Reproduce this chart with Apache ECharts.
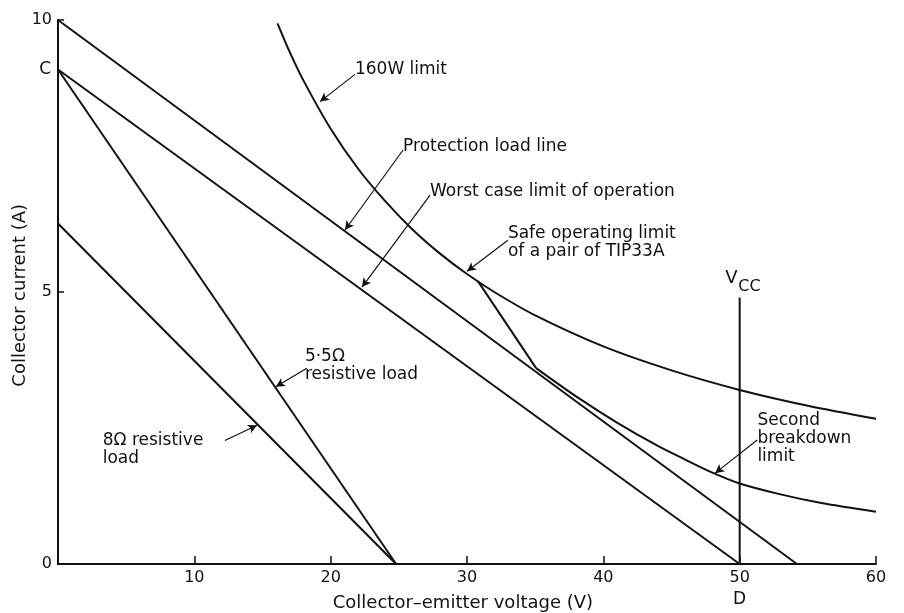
<!DOCTYPE html>
<html><head><meta charset="utf-8">
<script src="https://cdn.jsdelivr.net/npm/echarts@6/dist/echarts.min.js"></script>
<style>html,body{margin:0;padding:0;background:#fff}#c{width:904px;height:613px}</style>
</head><body><div id="c"></div>
<script>
// ---- data ----
const protV = [0, 54.2];           const protI = [10, 0];
const worstV = [0, 50];            const worstI = [9.09, 0];
const load55V = [0, 24.8];         const load55I = [9.09, 0];
const load8V = [0, 24.8];          const load8I = [6.26, 0];
const w160V = [16.1, 17, 18, 20, 22, 24, 26, 28, 30, 32, 35, 40, 45, 50, 55, 60];
const w160I = [9.94, 9.41, 8.89, 8.0, 7.27, 6.67, 6.15, 5.71, 5.33, 5.0, 4.57, 4.0, 3.56, 3.2, 2.91, 2.67];
const safeV = [30.8, 35.07];       const safeI = [5.2, 3.6];
const sbV = [35.07, 38, 41, 44, 46, 48, 50, 53, 56, 60];
const sbI = [3.60, 3.08, 2.6, 2.17, 1.92, 1.68, 1.48, 1.28, 1.12, 0.96];
const vccV = [50, 50];             const vccI = [0, 4.9];
const xTicks = [0, 10, 20, 30, 40, 50, 60];
const yTickLabels = {0: '0', 5: '5', 10: '10'};
const pointC = 9.09;

const arrows = [
  [[21.78, 9.0], [19.22, 8.5]],
  [[25.31, 7.61], [21.05, 6.14]],
  [[27.29, 6.78], [22.30, 5.09]],
  [[33.0, 5.95], [30.0, 5.38]],
  [[18.25, 3.60], [15.98, 3.26]],
  [[12.24, 2.27], [14.6, 2.55]],
  [[51.29, 2.28], [48.2, 1.67]]
];
const notes = [
  {t: '160W limit', at: [21.78, 9.08]},
  {t: 'Protection load line', at: [25.31, 7.68]},
  {t: 'Worst case limit of operation', at: [27.29, 6.84]},
  {t: 'Safe operating limit\nof a pair of TIP33A', at: [33.0, 6.07]},
  {t: '5·5Ω\nresistive load', at: [18.11, 3.82]},
  {t: '8Ω resistive\nload', at: [3.28, 2.26]},
  {t: 'Second\nbreakdown\nlimit', at: [51.3, 2.63]}
];

const zip = (a, b) => a.map((v, i) => [v, b[i]]);
const FONT = 'DejaVu Sans';
const lineS = (data, smooth) => ({
  type: 'line', data, smooth: smooth ? 0.3 : false, symbol: 'none',
  lineStyle: {color: '#111', width: 2}, silent: true, animation: false
});

const chart = echarts.init(document.getElementById('c'), null, {renderer: 'canvas'});
const series = [
  lineS(zip(protV, protI)), lineS(zip(worstV, worstI)),
  lineS(zip(load55V, load55I)), lineS(zip(load8V, load8I)),
  lineS(zip(w160V, w160I), true), lineS(zip(safeV, safeI)),
  lineS(zip(sbV, sbI), true), lineS(zip(vccV, vccI))
];
series.push({
  type: 'line', data: [], silent: true, animation: false,
  markLine: {
    symbol: ['none', 'arrow'], symbolSize: [7, 9], silent: true, animation: false,
    label: {show: false},
    lineStyle: {color: '#111', width: 1.2, type: 'solid'},
    data: arrows.map(a => [{coord: a[0]}, {coord: a[1]}])
  }
});

chart.setOption({
  animation: false,
  grid: {left: 58, right: 28, top: 20, bottom: 49, outerBoundsMode: 'none', containLabel: false},
  xAxis: {
    type: 'value', min: 0, max: 60, interval: 10,
    axisLine: {onZero: false, lineStyle: {color: '#111', width: 2}},
    axisTick: {inside: true, length: 8, lineStyle: {color: '#111', width: 1.5}},
    axisLabel: {color: '#111', fontFamily: FONT, fontSize: 16, margin: 6,
      formatter: v => (v === 0 ? '' : String(v))},
    splitLine: {show: false}
  },
  yAxis: {
    type: 'value', min: 0, max: 10, interval: 5,
    axisLine: {onZero: false, lineStyle: {color: '#111', width: 2}},
    axisTick: {inside: true, length: 6, lineStyle: {color: '#111', width: 1.5}},
    axisLabel: {color: '#111', fontFamily: FONT, fontSize: 16, margin: 6,
      formatter: v => yTickLabels[v] || ''},
    splitLine: {show: false}
  },
  series
});

function px(p) { return chart.convertToPixel({gridIndex: 0}, p); }
const g = [];
notes.forEach(n => {
  const p = px(n.at);
  g.push({type: 'text', x: p[0], y: p[1] - 9, silent: true,
    style: {text: n.t, fill: '#111', font: '17px ' + FONT, lineHeight: 18,
      textAlign: 'left', textVerticalAlign: 'top'}});
});
// Vcc label
const pv = px([48.95, 5.26]);
g.push({type: 'text', x: pv[0], y: pv[1], silent: true,
  style: {text: 'V', fill: '#111', font: '18px ' + FONT, textAlign: 'left', textVerticalAlign: 'middle'}});
g.push({type: 'text', x: pv[0] + 13, y: pv[1] + 9, silent: true,
  style: {text: 'CC', fill: '#111', font: '16px ' + FONT, textAlign: 'left', textVerticalAlign: 'middle'}});
// C on y axis
const pc = px([0, pointC]);
g.push({type: 'text', x: pc[0] - 7, y: pc[1], silent: true,
  style: {text: 'C', fill: '#111', font: '17px ' + FONT, textAlign: 'right', textVerticalAlign: 'middle'}});
// D under 50
const pd = px([50, 0]);
g.push({type: 'text', x: pd[0], y: pd[1] + 36, silent: true,
  style: {text: 'D', fill: '#111', font: '17px ' + FONT, textAlign: 'center', textVerticalAlign: 'middle'}});
// axis titles
const px0 = px([29.7, 0]);
g.push({type: 'text', x: px0[0], y: px0[1] + 39, silent: true,
  style: {text: 'Collector–emitter voltage (V)', fill: '#111', font: '18px ' + FONT,
    textAlign: 'center', textVerticalAlign: 'middle'}});
const py0 = px([0, 4.94]);
g.push({type: 'text', x: 20, y: py0[1], rotation: Math.PI / 2, silent: true,
  style: {text: 'Collector current (A)', fill: '#111', font: '18px ' + FONT,
    textAlign: 'center', textVerticalAlign: 'middle'}});
chart.setOption({graphic: g});
</script>
</body></html>
